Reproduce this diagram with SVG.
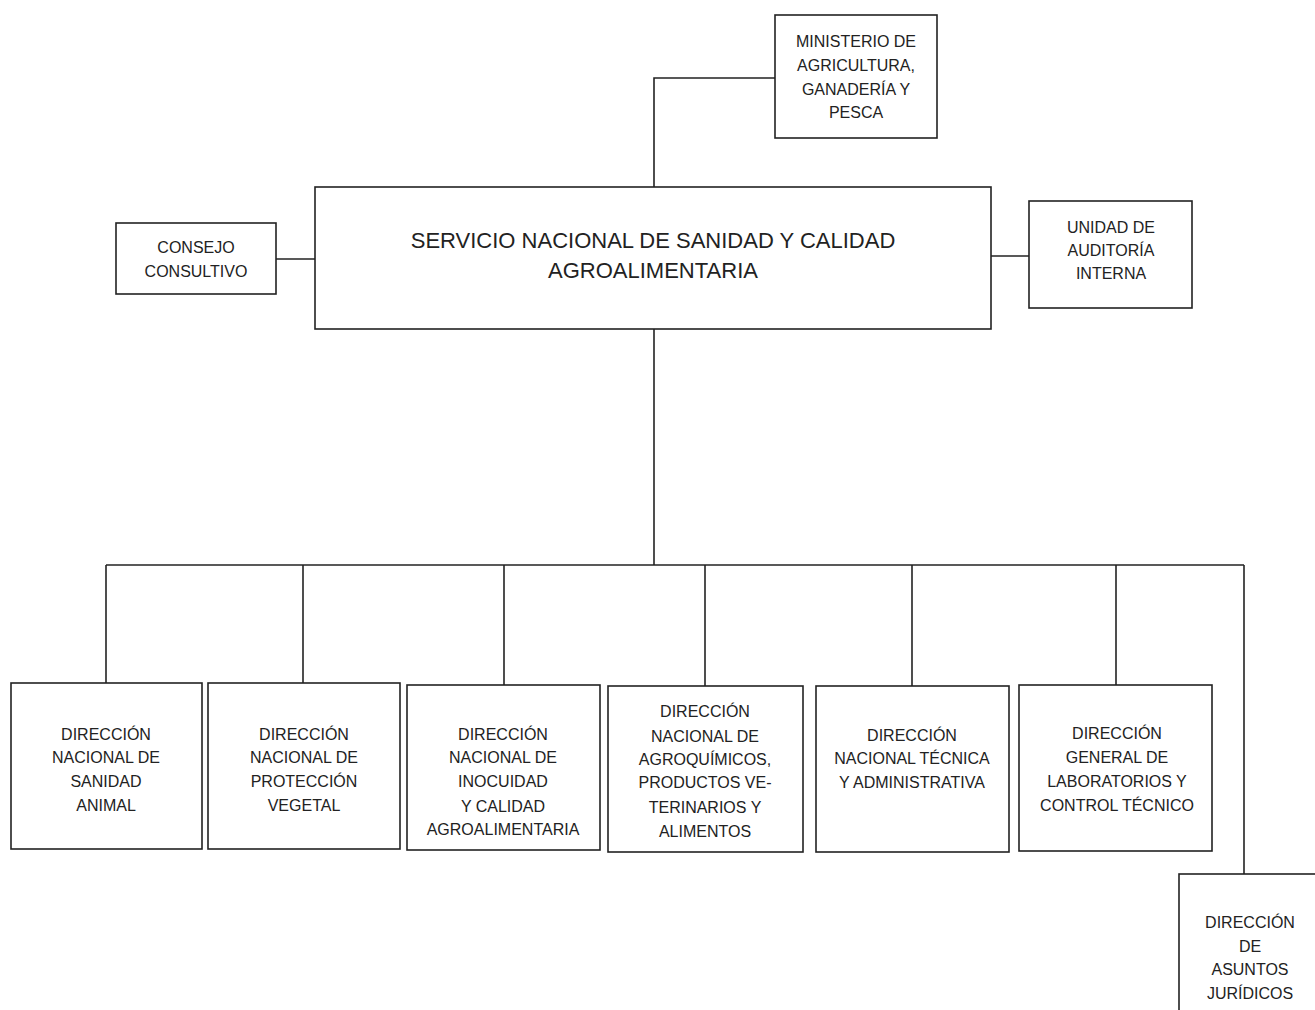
<svg xmlns="http://www.w3.org/2000/svg" width="1315" height="1010" viewBox="0 0 1315 1010">
<style>
.box{fill:#fff;stroke:#222;stroke-width:1.6}
.ln{fill:none;stroke:#222;stroke-width:1.6}
text{font-family:"Liberation Sans",Arial,sans-serif;fill:#222;text-anchor:middle}
.t{font-size:16px}
.big{font-size:22px}
</style>
<rect width="1315" height="1010" fill="#fff"/>
<g id="connectors">
<polyline class="ln" points="775,78 654,78 654,187"/>
<line class="ln" x1="276" y1="259" x2="315" y2="259"/>
<line class="ln" x1="991" y1="256" x2="1029" y2="256"/>
<line class="ln" x1="654" y1="329" x2="654" y2="565"/>
<line class="ln" x1="106" y1="565" x2="1244" y2="565"/>
<line class="ln" x1="106" y1="565" x2="106" y2="683"/>
<line class="ln" x1="303" y1="565" x2="303" y2="683"/>
<line class="ln" x1="504" y1="565" x2="504" y2="685"/>
<line class="ln" x1="705" y1="565" x2="705" y2="686"/>
<line class="ln" x1="912" y1="565" x2="912" y2="686"/>
<line class="ln" x1="1116" y1="565" x2="1116" y2="685"/>
<line class="ln" x1="1244" y1="565" x2="1244" y2="874"/>
</g>
<g id="ministerio">
<rect class="box" x="775" y="15" width="162" height="123"/>
<text class="t" x="856" y="47">MINISTERIO DE</text>
<text class="t" x="856" y="71">AGRICULTURA,</text>
<text class="t" x="856" y="95">GANADERÍA Y</text>
<text class="t" x="856" y="118">PESCA</text>
</g>
<g id="senasa">
<rect class="box" x="315" y="187" width="676" height="142"/>
<text class="big" x="653" y="248">SERVICIO NACIONAL DE SANIDAD Y CALIDAD</text>
<text class="big" x="653" y="278">AGROALIMENTARIA</text>
</g>
<g id="consejo">
<rect class="box" x="116" y="223" width="160" height="71"/>
<text class="t" x="196" y="253">CONSEJO</text>
<text class="t" x="196" y="277">CONSULTIVO</text>
</g>
<g id="auditoria">
<rect class="box" x="1029" y="201" width="163" height="107"/>
<text class="t" x="1111" y="233">UNIDAD DE</text>
<text class="t" x="1111" y="256">AUDITORÍA</text>
<text class="t" x="1111" y="279">INTERNA</text>
</g>
<g id="sanidad-animal">
<rect class="box" x="11" y="683" width="191" height="166"/>
<text class="t" x="106" y="740">DIRECCIÓN</text>
<text class="t" x="106" y="763">NACIONAL DE</text>
<text class="t" x="106" y="787">SANIDAD</text>
<text class="t" x="106" y="811">ANIMAL</text>
</g>
<g id="proteccion-vegetal">
<rect class="box" x="208" y="683" width="192" height="166"/>
<text class="t" x="304" y="740">DIRECCIÓN</text>
<text class="t" x="304" y="763">NACIONAL DE</text>
<text class="t" x="304" y="787">PROTECCIÓN</text>
<text class="t" x="304" y="811">VEGETAL</text>
</g>
<g id="inocuidad">
<rect class="box" x="407" y="685" width="193" height="165"/>
<text class="t" x="503" y="740">DIRECCIÓN</text>
<text class="t" x="503" y="763">NACIONAL DE</text>
<text class="t" x="503" y="787">INOCUIDAD</text>
<text class="t" x="503" y="812">Y CALIDAD</text>
<text class="t" x="503" y="835">AGROALIMENTARIA</text>
</g>
<g id="agroquimicos">
<rect class="box" x="608" y="686" width="195" height="166"/>
<text class="t" x="705" y="717">DIRECCIÓN</text>
<text class="t" x="705" y="742">NACIONAL DE</text>
<text class="t" x="705" y="765">AGROQUÍMICOS,</text>
<text class="t" x="705" y="788">PRODUCTOS VE-</text>
<text class="t" x="705" y="813">TERINARIOS Y</text>
<text class="t" x="705" y="837">ALIMENTOS</text>
</g>
<g id="tecnica-administrativa">
<rect class="box" x="816" y="686" width="193" height="166"/>
<text class="t" x="912" y="741">DIRECCIÓN</text>
<text class="t" x="912" y="764">NACIONAL TÉCNICA</text>
<text class="t" x="912" y="788">Y ADMINISTRATIVA</text>
</g>
<g id="laboratorios">
<rect class="box" x="1019" y="685" width="193" height="166"/>
<text class="t" x="1117" y="739">DIRECCIÓN</text>
<text class="t" x="1117" y="763">GENERAL DE</text>
<text class="t" x="1117" y="787">LABORATORIOS Y</text>
<text class="t" x="1117" y="811">CONTROL TÉCNICO</text>
</g>
<g id="asuntos-juridicos">
<rect class="box" x="1179" y="874" width="160" height="160"/>
<text class="t" x="1250" y="928">DIRECCIÓN</text>
<text class="t" x="1250" y="952">DE</text>
<text class="t" x="1250" y="975">ASUNTOS</text>
<text class="t" x="1250" y="999">JURÍDICOS</text>
</g>
</svg>
